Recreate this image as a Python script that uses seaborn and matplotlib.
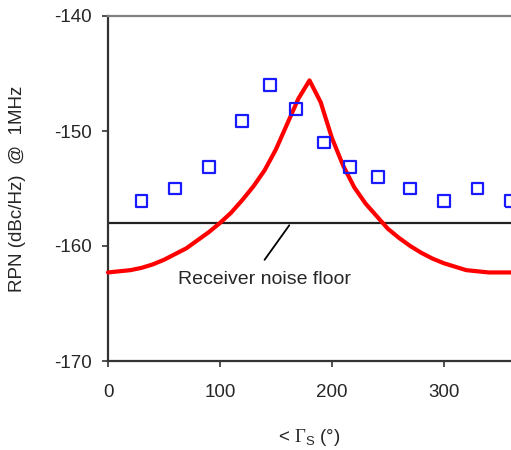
import seaborn as sns
import matplotlib.pyplot as plt
import pandas as pd

# measured source reflection phase (deg) and RPN (dBc/Hz)
meas_angle = [30, 60, 90, 120, 145, 168, 193, 216, 241, 270, 300, 330, 360]
meas_rpn = [-156.1, -155.0, -153.1, -149.1, -146.0, -148.1, -151.0, -153.1, -154.0,
            -155.0, -156.1, -155.0, -156.1]

# simulated curve
sim_angle = [0, 10, 20, 30, 40, 50, 60, 70, 80, 90, 100, 110, 120, 130, 140, 150, 160,
             170, 180, 190, 200, 210, 220, 230, 240, 250, 260, 270, 280, 290, 300, 310,
             320, 330, 340, 350, 360]
sim_rpn = [-162.3, -162.2, -162.1, -161.9, -161.6, -161.2, -160.7, -160.2, -159.5,
           -158.8, -158.0, -157.1, -156.0, -154.8, -153.4, -151.6, -149.4, -147.2,
           -145.6, -147.5, -150.6, -153.0, -154.9, -156.3, -157.4, -158.5, -159.3,
           -160.0, -160.6, -161.1, -161.5, -161.8, -162.1, -162.2, -162.3, -162.3, -162.3]

noise_floor = -158.0

sns.set_style("white")
plt.rcParams['font.family'] = ['Liberation Sans', 'DejaVu Sans']
plt.rcParams['mathtext.fontset'] = 'custom'
plt.rcParams['mathtext.rm'] = 'Liberation Serif'
plt.rcParams['mathtext.sf'] = 'Liberation Sans'
plt.rcParams['axes.unicode_minus'] = False

df_meas = pd.DataFrame({'angle': meas_angle, 'rpn': meas_rpn})
df_sim = pd.DataFrame({'angle': sim_angle, 'rpn': sim_rpn})

fig = plt.figure(figsize=(5.11, 4.5), dpi=100)
ax = fig.add_axes([108 / 511, 1 - 361 / 450, 1 - 108 / 511, (361 - 16) / 450])

ax.axhline(noise_floor, color='#222222', lw=1.6, zorder=1)

sns.lineplot(data=df_sim, x='angle', y='rpn', color='#ff0000', lw=3, ax=ax,
             zorder=3, clip_on=False)
sns.scatterplot(data=df_meas, x='angle', y='rpn', marker='s', s=72,
                facecolors='none', edgecolor='#1a1aff', linewidth=1.6, ax=ax,
                zorder=4, clip_on=False)

ax.text(62.5, -162.9, 'Receiver noise floor', fontsize=14, va='center', ha='left')
ax.annotate('', xy=(163.4, -158.0), xytext=(138.4, -161.4),
            arrowprops=dict(arrowstyle='-', color='black', lw=1.3))

ax.set_xlim(0, 360)
ax.set_ylim(-170, -140)
ax.set_xticks([0, 100, 200, 300])
ax.set_yticks([-170, -160, -150, -140])
ax.tick_params(axis='both', direction='out', length=4.5, width=1.2, labelsize=13.5,
               bottom=True, left=True, color='#333333')
ax.tick_params(axis='x', pad=12)
ax.tick_params(axis='y', pad=7)

ax.set_xlabel(r'< $\Gamma_{\mathsf{S}}$ (°)', fontsize=13.5)
ax.set_ylabel('RPN (dBc/Hz)  @  1MHz', fontsize=13.5)
ax.yaxis.set_label_coords(-0.203, 0.5)
ax.xaxis.set_label_coords(0.5, -0.19)

for side in ['left', 'bottom']:
    ax.spines[side].set_color('#333333')
    ax.spines[side].set_linewidth(1.6)
ax.spines['top'].set_color('#808080')
ax.spines['top'].set_linewidth(1.6)
ax.spines['right'].set_visible(False)

fig.savefig('out.png', dpi=100)
